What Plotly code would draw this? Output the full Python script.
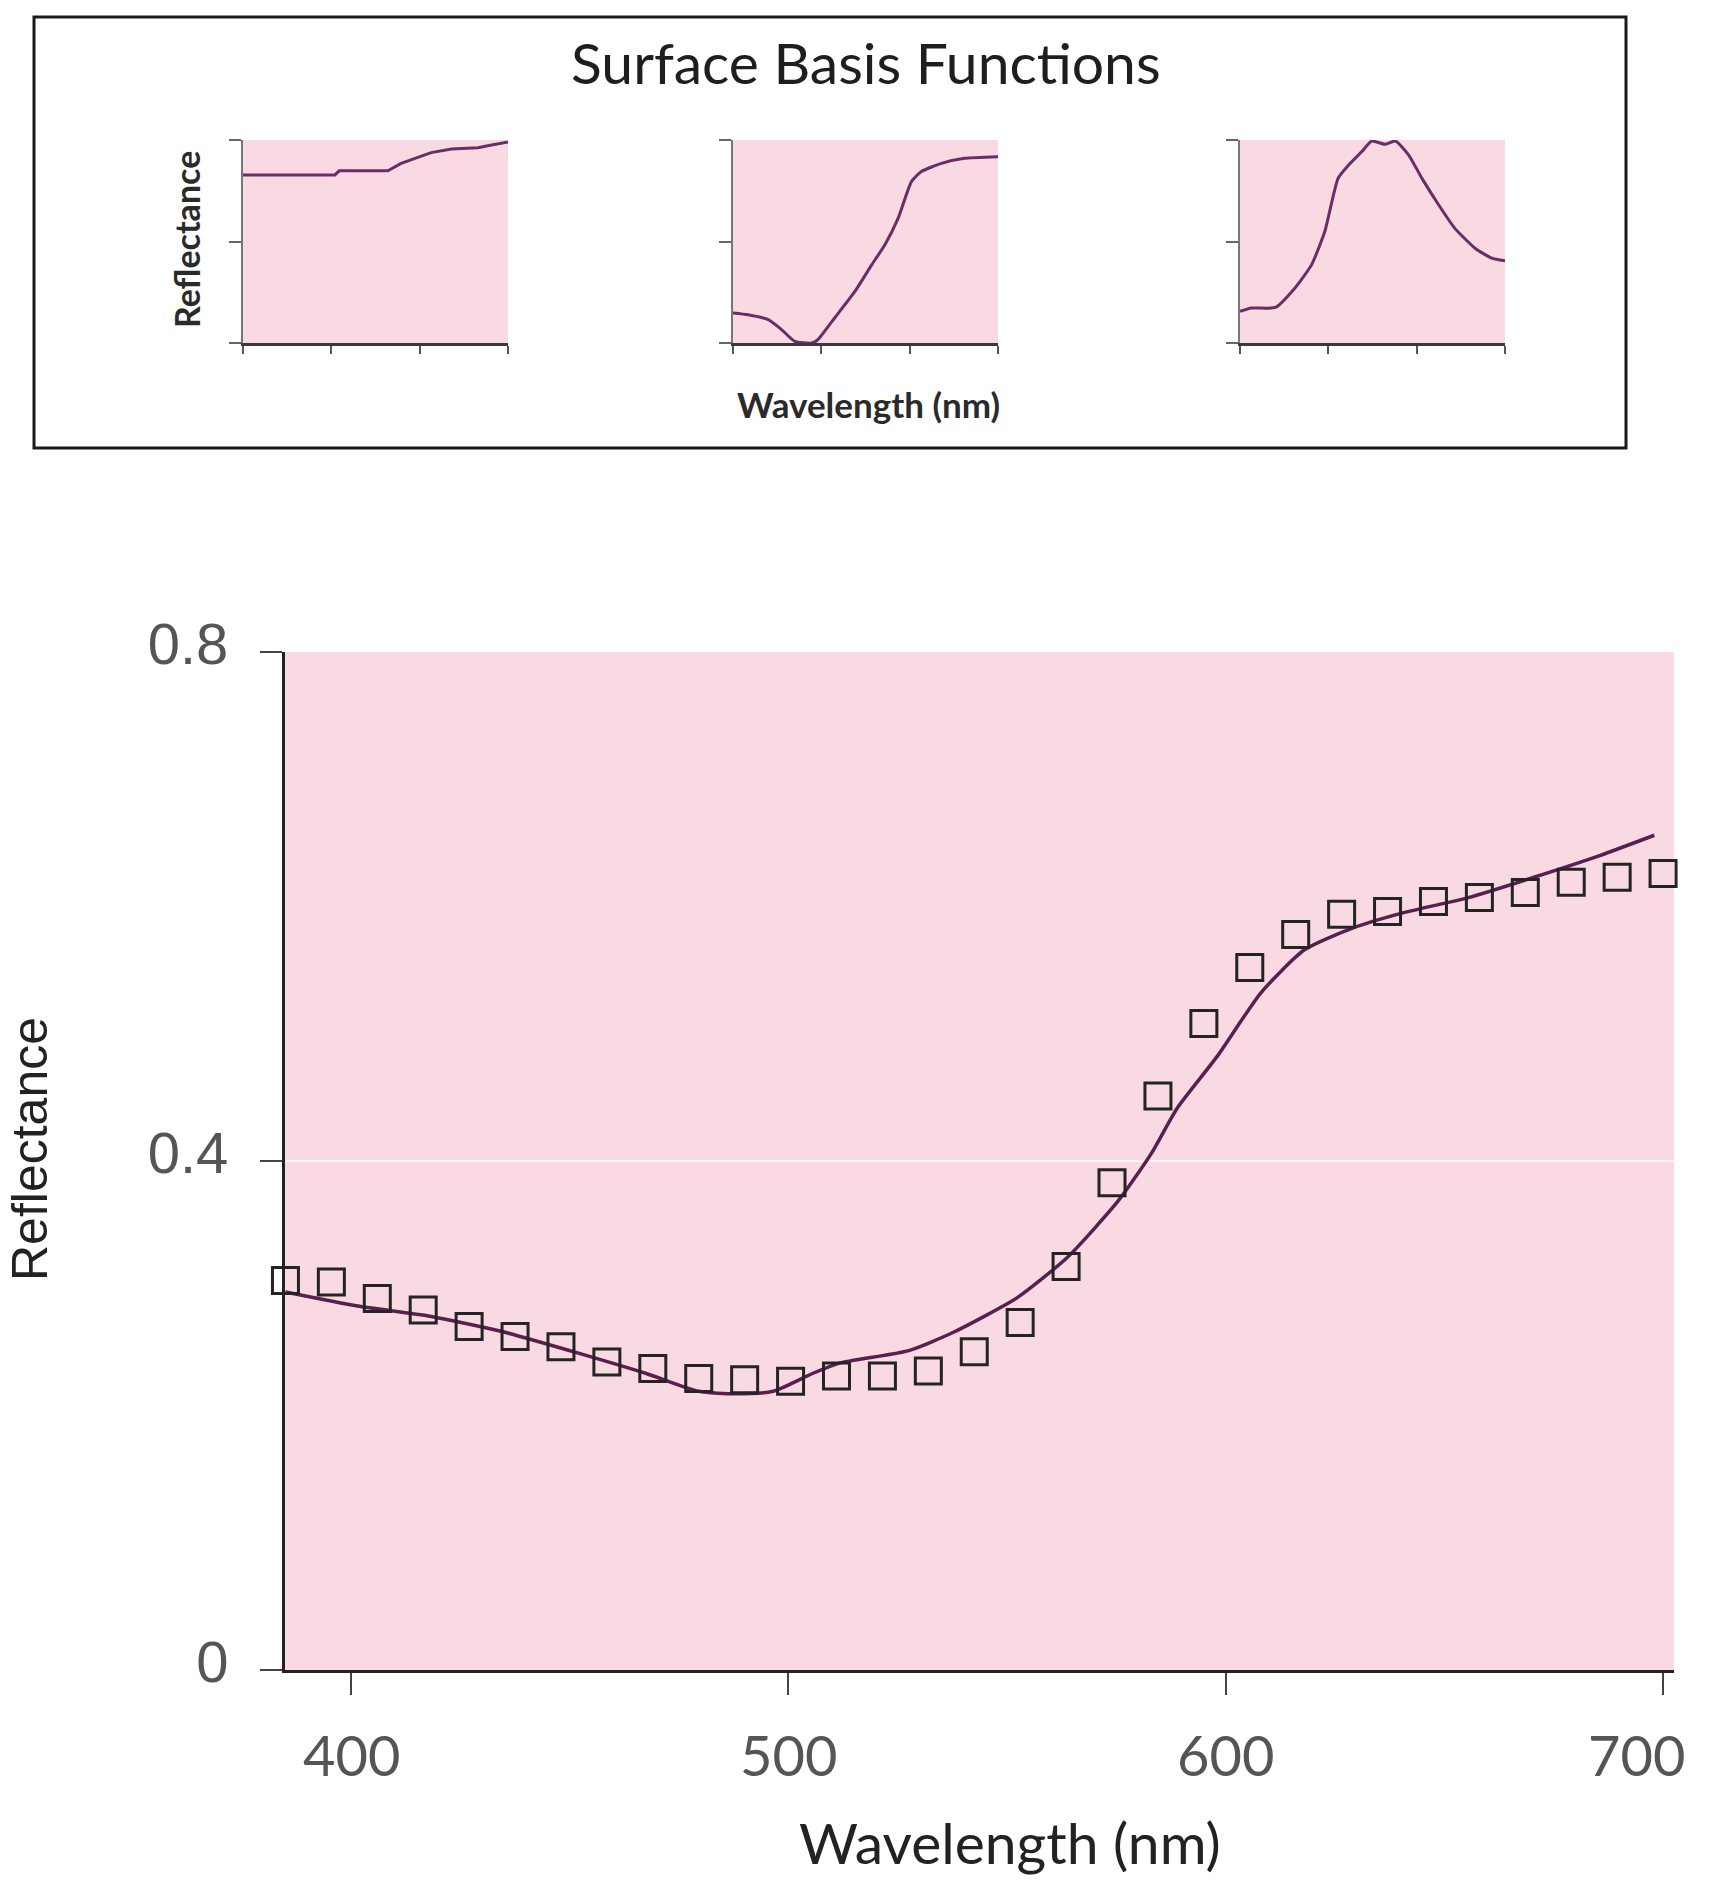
import plotly.graph_objects as go

W, H = 1714, 1882

# ---------------- data ----------------
# main chart: measured reflectance samples (squares)
sample_wl = [385, 395.5, 406, 416.5, 427, 437.5, 448, 458.5, 469, 479.5, 490,
             500.5, 511, 521.5, 532, 542.5, 553, 563.5, 574, 584.5, 595,
             605.5, 616, 626.5, 637, 647.5, 658, 668.5, 679, 689.5, 700]
sample_refl = [0.306, 0.305, 0.292, 0.283, 0.270, 0.262, 0.254, 0.242, 0.237, 0.229, 0.228,
               0.227, 0.231, 0.231, 0.235, 0.250, 0.273, 0.317, 0.383, 0.451, 0.508,
               0.552, 0.578, 0.594, 0.596, 0.604, 0.607, 0.611, 0.619, 0.623, 0.626]

# main chart: fitted curve (linear model of three basis functions)
fit_wl = [385, 401.5, 418, 434.5, 451, 467.5, 479.5, 488, 496.5, 505.5, 511.5,
          527.5, 537.5, 552.5, 564, 575.5, 583, 589, 598, 608, 618,
          629, 640.5, 655.5, 670.5, 685.5, 698]
fit_refl = [0.297, 0.286, 0.278, 0.266, 0.250, 0.233, 0.219, 0.217, 0.219, 0.233, 0.241,
            0.251, 0.265, 0.293, 0.325, 0.369, 0.406, 0.442, 0.482, 0.532, 0.566,
            0.583, 0.595, 0.607, 0.623, 0.640, 0.656]

# inset: three surface basis functions (relative reflectance 0..1)
basis1_wl = [400, 504, 509, 564, 579, 606, 613, 636, 666, 677, 700]
basis1_val = [0.828, 0.828, 0.848, 0.848, 0.885, 0.930, 0.938, 0.956, 0.962, 0.972, 0.990]

basis2_wl = [400, 417, 440, 455, 470, 489, 496, 515, 538, 557, 572, 587, 602, 613, 636, 662, 700]
basis2_val = [0.148, 0.139, 0.115, 0.066, 0.008, 0.0, 0.016, 0.123, 0.254, 0.385, 0.484,
              0.615, 0.795, 0.844, 0.885, 0.910, 0.918]

basis3_wl = [400, 413, 440, 462, 481, 496, 511, 523, 538, 549, 564, 576, 591, 606, 625, 643, 666, 685, 700]
basis3_val = [0.156, 0.172, 0.175, 0.270, 0.385, 0.549, 0.811, 0.877, 0.943, 0.995, 0.979,
              0.995, 0.926, 0.811, 0.680, 0.566, 0.467, 0.418, 0.405]

main_xticks = [400, 500, 600, 700]
main_xticktext = ["400", "500", "600", "700"]
main_yticks = [0, 0.4, 0.8]
main_yticktext = ["0", "0.4", "0.8"]
inset_xticks = [400, 500, 600, 700]
inset_yticks = [0, 0.5, 1]

# ---------------- style ----------------
PINK_MAIN = "#f9dae3"
CURVE = "#5a1f50"
INSET_CURVE = "#6a2d66"
GILL = "Lato, 'Open Sans', sans-serif"
HELV = "'Liberation Sans Narrow', 'Liberation Sans', Arial, sans-serif"


def px_x(p):
    return p / W


def px_y(p):
    return 1 - p / H


fig = go.Figure()

# main chart
fig.add_trace(go.Scatter(x=fit_wl, y=fit_refl, mode="lines",
                         line=dict(color=CURVE, width=3.5, shape="spline", smoothing=0.6),
                         xaxis="x", yaxis="y", showlegend=False, hoverinfo="skip"))
fig.add_trace(go.Scatter(x=sample_wl, y=sample_refl, mode="markers",
                         marker=dict(symbol="square-open", size=26, color="#242424",
                                     line=dict(width=3, color="#242424")),
                         cliponaxis=False, xaxis="x", yaxis="y", showlegend=False))

# inset basis functions
insets = [(basis1_wl, basis1_val, "linear"), (basis2_wl, basis2_val, "spline"), (basis3_wl, basis3_val, "spline")]
for k, (wl, val, shp) in enumerate(insets):
    ax = str(k + 2)
    fig.add_trace(go.Scatter(x=wl, y=val, mode="lines",
                             line=dict(color=INSET_CURVE, width=3, shape=shp, smoothing=0.5),
                             xaxis="x" + ax, yaxis="y" + ax, showlegend=False, hoverinfo="skip"))

main_x_dom = [px_x(285), px_x(1674)]
main_y_dom = [px_y(1670), px_y(652)]

layout = dict(
    template="none",
    width=W, height=H, autosize=False,
    margin=dict(l=0, r=0, t=0, b=0, pad=0, autoexpand=False),
    paper_bgcolor="white",
    plot_bgcolor=PINK_MAIN,
    showlegend=False,
    xaxis=dict(domain=main_x_dom, anchor="y", range=[384.9, 702.5], automargin=False,
               tickvals=main_xticks, ticks="outside", ticklen=22, tickwidth=2,
               tickcolor="#444", showline=True, linecolor="#222", linewidth=3,
               showgrid=False, zeroline=False, showticklabels=False),
    yaxis=dict(domain=main_y_dom, anchor="x", range=[0, 0.8], automargin=False,
               tickvals=main_yticks, ticktext=main_yticktext,
               ticks="outside", ticklen=22, tickwidth=2, tickcolor="#444",
               showline=True, linecolor="#222", linewidth=3,
               showgrid=True, gridcolor="rgba(255,255,255,0.7)", gridwidth=2,
               zeroline=False,
               tickfont=dict(family=HELV, size=58, color="#555"),
               ticklabelstandoff=20, ticklabelshift=-8),
)

inset_x_px = [(243, 508), (733, 998), (1240, 1505)]
for k, (a, b) in enumerate(inset_x_px):
    n = str(k + 2)
    layout["xaxis" + n] = dict(domain=[px_x(a), px_x(b)], anchor="y" + n, range=[400, 700],
                               automargin=False,
                               tickvals=inset_xticks, ticks="outside", ticklen=8, tickwidth=2,
                               tickcolor="#555", showline=True, linecolor="#3a3a3a", linewidth=2.5,
                               showticklabels=False, showgrid=False, zeroline=False)
    layout["yaxis" + n] = dict(domain=[px_y(343), px_y(140)], anchor="x" + n, range=[0, 1],
                               automargin=False,
                               tickvals=inset_yticks, ticks="outside", ticklen=12, tickwidth=2,
                               tickcolor="#666", showline=True, linecolor="#777", linewidth=1.5,
                               showticklabels=False, showgrid=False, zeroline=False)

fig.update_layout(**layout)

shapes = [dict(type="rect", xref="paper", yref="paper",
               x0=px_x(34), x1=px_x(1626), y0=px_y(448), y1=px_y(17),
               line=dict(color="#1a1a1a", width=3), fillcolor="rgba(0,0,0,0)", layer="above")]
fig.update_layout(shapes=shapes)

annotations = [
    dict(text="Surface Basis Functions", x=px_x(866), y=px_y(62), xref="paper", yref="paper",
         showarrow=False, xanchor="center", yanchor="middle",
         font=dict(family=GILL, size=57, color="#1e1e1e")),
    dict(text="<b>Reflectance</b>", x=px_x(186), y=px_y(240), xref="paper", yref="paper",
         showarrow=False, xanchor="center", yanchor="middle", textangle=-90,
         font=dict(family=GILL, size=34, color="#2a2a2a")),
    dict(text="<b>Wavelength (nm)</b>", x=px_x(868), y=px_y(404), xref="paper", yref="paper",
         showarrow=False, xanchor="center", yanchor="middle",
         font=dict(family=GILL, size=35, color="#2a2a2a")),
    dict(text="Wavelength (nm)", x=px_x(1010), y=px_y(1842), xref="paper", yref="paper",
         showarrow=False, xanchor="center", yanchor="middle",
         font=dict(family=GILL, size=57, color="#222")),
    dict(text="Reflectance", x=0, y=px_y(1149), xref="paper", yref="paper",
         showarrow=False, xanchor="left", yanchor="middle", textangle=-90,
         font=dict(family=HELV, size=50, color="#222")),
]

# x tick labels of the main chart, placed at their wavelengths on the x axis
for v, t in zip(main_xticks, main_xticktext):
    last = v == main_xticks[-1]
    annotations.append(dict(text=t, x=v, xref="x", y=px_y(1754), yref="paper",
                            showarrow=False, xanchor="right" if last else "center",
                            xshift=24 if last else 0, yanchor="middle",
                            font=dict(family=GILL, size=56, color="#555")))
fig.update_layout(annotations=annotations)

fig.write_html("out.html", config={"displayModeBar": False},
               post_script="document.body.style.margin='0';document.body.style.overflow='hidden';")
